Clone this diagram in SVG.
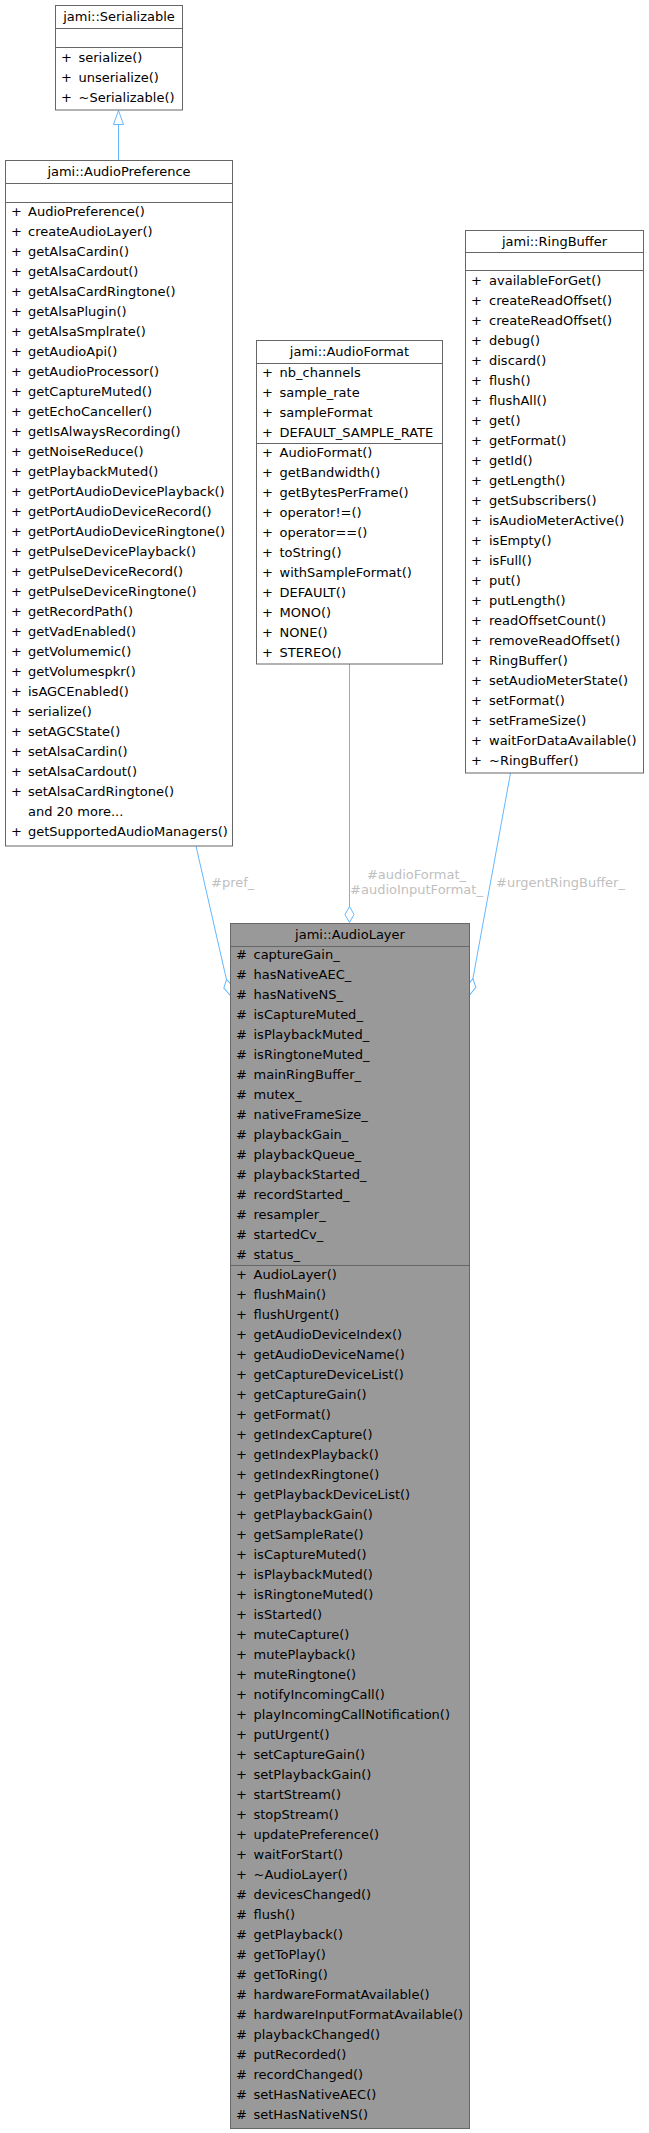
<svg xmlns="http://www.w3.org/2000/svg" width="649" height="2133" viewBox="0 0 649 2133">
<style>
.box{fill:#ffffff;stroke:#666666;stroke-width:1}
.focus{fill:#999999;stroke:#666666;stroke-width:1}
.sep{stroke:#666666;stroke-width:1}
text{font-family:"DejaVu Sans","Liberation Sans",sans-serif;font-size:13px;fill:#000000}
.t{text-anchor:middle}
.lbl{fill:#bfbfbf}
.lblm{fill:#bfbfbf;text-anchor:middle}
.edge{stroke:#63b8ff;stroke-width:1;fill:none}
</style>
<defs>
<marker id="tri" viewBox="-1 -1 16 13" markerWidth="16" markerHeight="13" refX="14" refY="5.5" orient="auto" markerUnits="userSpaceOnUse">
<path d="M0,0.5 L14,5.5 L0,10.5 Z" fill="#ffffff" stroke="#63b8ff" stroke-width="1"/>
</marker>
<marker id="dia" viewBox="-1 -1 18 12" markerWidth="18" markerHeight="12" refX="16" refY="5" orient="auto" markerUnits="userSpaceOnUse">
<path d="M0,5 L8,0.5 L16,5 L8,9.5 Z" fill="#ffffff" stroke="#63b8ff" stroke-width="1"/>
</marker>
</defs>

<g id="connectors">
<path class="edge" d="M118.5,160 L118.5,110.5" marker-end="url(#tri)"/>
<path class="edge" d="M196,846 L230,995" marker-end="url(#dia)"/>
<text class="lbl" x="211" y="886.5">#pref_</text>
<path class="edge" d="M349.5,664 L349.5,922.5" marker-end="url(#dia)"/>
<text class="lblm" x="416.5" y="879">#audioFormat_</text>
<text class="lblm" x="416.5" y="894">#audioInputFormat_</text>
<path class="edge" d="M510.5,773 L470,994.5" marker-end="url(#dia)"/>
<text class="lbl" x="496" y="886.5">#urgentRingBuffer_</text>
</g>

<g id="Serializable">
<rect class="box" x="55.5" y="5.5" width="127" height="104.5"/>
<line class="sep" x1="55.5" y1="28.5" x2="182.5" y2="28.5"/>
<line class="sep" x1="55.5" y1="47.5" x2="182.5" y2="47.5"/>
<text class="t" x="119" y="20.5">jami::Serializable</text>
<text y="62"><tspan x="61">+</tspan><tspan x="78.5">serialize()</tspan></text>
<text y="82"><tspan x="61">+</tspan><tspan x="78.5">unserialize()</tspan></text>
<text y="102"><tspan x="61">+</tspan><tspan x="78.5">~Serializable()</tspan></text>
</g>

<g id="AudioPreference">
<rect class="box" x="5.5" y="160.5" width="227" height="685.5"/>
<line class="sep" x1="5.5" y1="183.5" x2="232.5" y2="183.5"/>
<line class="sep" x1="5.5" y1="202.5" x2="232.5" y2="202.5"/>
<text class="t" x="119" y="175.5">jami::AudioPreference</text>
<text y="216"><tspan x="11">+</tspan><tspan x="28">AudioPreference()</tspan></text>
<text y="236"><tspan x="11">+</tspan><tspan x="28">createAudioLayer()</tspan></text>
<text y="256"><tspan x="11">+</tspan><tspan x="28">getAlsaCardin()</tspan></text>
<text y="276"><tspan x="11">+</tspan><tspan x="28">getAlsaCardout()</tspan></text>
<text y="296"><tspan x="11">+</tspan><tspan x="28">getAlsaCardRingtone()</tspan></text>
<text y="316"><tspan x="11">+</tspan><tspan x="28">getAlsaPlugin()</tspan></text>
<text y="336"><tspan x="11">+</tspan><tspan x="28">getAlsaSmplrate()</tspan></text>
<text y="356"><tspan x="11">+</tspan><tspan x="28">getAudioApi()</tspan></text>
<text y="376"><tspan x="11">+</tspan><tspan x="28">getAudioProcessor()</tspan></text>
<text y="396"><tspan x="11">+</tspan><tspan x="28">getCaptureMuted()</tspan></text>
<text y="416"><tspan x="11">+</tspan><tspan x="28">getEchoCanceller()</tspan></text>
<text y="436"><tspan x="11">+</tspan><tspan x="28">getIsAlwaysRecording()</tspan></text>
<text y="456"><tspan x="11">+</tspan><tspan x="28">getNoiseReduce()</tspan></text>
<text y="476"><tspan x="11">+</tspan><tspan x="28">getPlaybackMuted()</tspan></text>
<text y="496"><tspan x="11">+</tspan><tspan x="28">getPortAudioDevicePlayback()</tspan></text>
<text y="516"><tspan x="11">+</tspan><tspan x="28">getPortAudioDeviceRecord()</tspan></text>
<text y="536"><tspan x="11">+</tspan><tspan x="28">getPortAudioDeviceRingtone()</tspan></text>
<text y="556"><tspan x="11">+</tspan><tspan x="28">getPulseDevicePlayback()</tspan></text>
<text y="576"><tspan x="11">+</tspan><tspan x="28">getPulseDeviceRecord()</tspan></text>
<text y="596"><tspan x="11">+</tspan><tspan x="28">getPulseDeviceRingtone()</tspan></text>
<text y="616"><tspan x="11">+</tspan><tspan x="28">getRecordPath()</tspan></text>
<text y="636"><tspan x="11">+</tspan><tspan x="28">getVadEnabled()</tspan></text>
<text y="656"><tspan x="11">+</tspan><tspan x="28">getVolumemic()</tspan></text>
<text y="676"><tspan x="11">+</tspan><tspan x="28">getVolumespkr()</tspan></text>
<text y="696"><tspan x="11">+</tspan><tspan x="28">isAGCEnabled()</tspan></text>
<text y="716"><tspan x="11">+</tspan><tspan x="28">serialize()</tspan></text>
<text y="736"><tspan x="11">+</tspan><tspan x="28">setAGCState()</tspan></text>
<text y="756"><tspan x="11">+</tspan><tspan x="28">setAlsaCardin()</tspan></text>
<text y="776"><tspan x="11">+</tspan><tspan x="28">setAlsaCardout()</tspan></text>
<text y="796"><tspan x="11">+</tspan><tspan x="28">setAlsaCardRingtone()</tspan></text>
<text x="28" y="816">and 20 more...</text>
<text y="836"><tspan x="11">+</tspan><tspan x="28">getSupportedAudioManagers()</tspan></text>
</g>

<g id="AudioFormat">
<rect class="box" x="256.5" y="340.5" width="186" height="323.5"/>
<line class="sep" x1="256.5" y1="363.5" x2="442.5" y2="363.5"/>
<line class="sep" x1="256.5" y1="443.5" x2="442.5" y2="443.5"/>
<text class="t" x="349.5" y="355.5">jami::AudioFormat</text>
<text y="376.5"><tspan x="262">+</tspan><tspan x="279.5">nb_channels</tspan></text>
<text y="396.5"><tspan x="262">+</tspan><tspan x="279.5">sample_rate</tspan></text>
<text y="416.5"><tspan x="262">+</tspan><tspan x="279.5">sampleFormat</tspan></text>
<text y="436.5"><tspan x="262">+</tspan><tspan x="279.5">DEFAULT_SAMPLE_RATE</tspan></text>
<text y="456.5"><tspan x="262">+</tspan><tspan x="279.5">AudioFormat()</tspan></text>
<text y="476.5"><tspan x="262">+</tspan><tspan x="279.5">getBandwidth()</tspan></text>
<text y="496.5"><tspan x="262">+</tspan><tspan x="279.5">getBytesPerFrame()</tspan></text>
<text y="516.5"><tspan x="262">+</tspan><tspan x="279.5">operator!=()</tspan></text>
<text y="536.5"><tspan x="262">+</tspan><tspan x="279.5">operator==()</tspan></text>
<text y="556.5"><tspan x="262">+</tspan><tspan x="279.5">toString()</tspan></text>
<text y="576.5"><tspan x="262">+</tspan><tspan x="279.5">withSampleFormat()</tspan></text>
<text y="596.5"><tspan x="262">+</tspan><tspan x="279.5">DEFAULT()</tspan></text>
<text y="616.5"><tspan x="262">+</tspan><tspan x="279.5">MONO()</tspan></text>
<text y="636.5"><tspan x="262">+</tspan><tspan x="279.5">NONE()</tspan></text>
<text y="656.5"><tspan x="262">+</tspan><tspan x="279.5">STEREO()</tspan></text>
</g>

<g id="RingBuffer">
<rect class="box" x="465.5" y="230.5" width="178" height="542.5"/>
<line class="sep" x1="465.5" y1="252.5" x2="643.5" y2="252.5"/>
<line class="sep" x1="465.5" y1="270.5" x2="643.5" y2="270.5"/>
<text class="t" x="554.5" y="245.5">jami::RingBuffer</text>
<text y="284.5"><tspan x="471">+</tspan><tspan x="489">availableForGet()</tspan></text>
<text y="304.5"><tspan x="471">+</tspan><tspan x="489">createReadOffset()</tspan></text>
<text y="324.5"><tspan x="471">+</tspan><tspan x="489">createReadOffset()</tspan></text>
<text y="344.5"><tspan x="471">+</tspan><tspan x="489">debug()</tspan></text>
<text y="364.5"><tspan x="471">+</tspan><tspan x="489">discard()</tspan></text>
<text y="384.5"><tspan x="471">+</tspan><tspan x="489">flush()</tspan></text>
<text y="404.5"><tspan x="471">+</tspan><tspan x="489">flushAll()</tspan></text>
<text y="424.5"><tspan x="471">+</tspan><tspan x="489">get()</tspan></text>
<text y="444.5"><tspan x="471">+</tspan><tspan x="489">getFormat()</tspan></text>
<text y="464.5"><tspan x="471">+</tspan><tspan x="489">getId()</tspan></text>
<text y="484.5"><tspan x="471">+</tspan><tspan x="489">getLength()</tspan></text>
<text y="504.5"><tspan x="471">+</tspan><tspan x="489">getSubscribers()</tspan></text>
<text y="524.5"><tspan x="471">+</tspan><tspan x="489">isAudioMeterActive()</tspan></text>
<text y="544.5"><tspan x="471">+</tspan><tspan x="489">isEmpty()</tspan></text>
<text y="564.5"><tspan x="471">+</tspan><tspan x="489">isFull()</tspan></text>
<text y="584.5"><tspan x="471">+</tspan><tspan x="489">put()</tspan></text>
<text y="604.5"><tspan x="471">+</tspan><tspan x="489">putLength()</tspan></text>
<text y="624.5"><tspan x="471">+</tspan><tspan x="489">readOffsetCount()</tspan></text>
<text y="644.5"><tspan x="471">+</tspan><tspan x="489">removeReadOffset()</tspan></text>
<text y="664.5"><tspan x="471">+</tspan><tspan x="489">RingBuffer()</tspan></text>
<text y="684.5"><tspan x="471">+</tspan><tspan x="489">setAudioMeterState()</tspan></text>
<text y="704.5"><tspan x="471">+</tspan><tspan x="489">setFormat()</tspan></text>
<text y="724.5"><tspan x="471">+</tspan><tspan x="489">setFrameSize()</tspan></text>
<text y="744.5"><tspan x="471">+</tspan><tspan x="489">waitForDataAvailable()</tspan></text>
<text y="764.5"><tspan x="471">+</tspan><tspan x="489">~RingBuffer()</tspan></text>
</g>

<g id="AudioLayer">
<rect class="focus" x="230.5" y="923.5" width="239" height="1205"/>
<line class="sep" x1="230.5" y1="946.5" x2="469.5" y2="946.5"/>
<line class="sep" x1="230.5" y1="1265.5" x2="469.5" y2="1265.5"/>
<text class="t" x="350" y="938.5">jami::AudioLayer</text>
<text y="958.5"><tspan x="236">#</tspan><tspan x="253.5">captureGain_</tspan></text>
<text y="978.5"><tspan x="236">#</tspan><tspan x="253.5">hasNativeAEC_</tspan></text>
<text y="998.5"><tspan x="236">#</tspan><tspan x="253.5">hasNativeNS_</tspan></text>
<text y="1018.5"><tspan x="236">#</tspan><tspan x="253.5">isCaptureMuted_</tspan></text>
<text y="1038.5"><tspan x="236">#</tspan><tspan x="253.5">isPlaybackMuted_</tspan></text>
<text y="1058.5"><tspan x="236">#</tspan><tspan x="253.5">isRingtoneMuted_</tspan></text>
<text y="1078.5"><tspan x="236">#</tspan><tspan x="253.5">mainRingBuffer_</tspan></text>
<text y="1098.5"><tspan x="236">#</tspan><tspan x="253.5">mutex_</tspan></text>
<text y="1118.5"><tspan x="236">#</tspan><tspan x="253.5">nativeFrameSize_</tspan></text>
<text y="1138.5"><tspan x="236">#</tspan><tspan x="253.5">playbackGain_</tspan></text>
<text y="1158.5"><tspan x="236">#</tspan><tspan x="253.5">playbackQueue_</tspan></text>
<text y="1178.5"><tspan x="236">#</tspan><tspan x="253.5">playbackStarted_</tspan></text>
<text y="1198.5"><tspan x="236">#</tspan><tspan x="253.5">recordStarted_</tspan></text>
<text y="1218.5"><tspan x="236">#</tspan><tspan x="253.5">resampler_</tspan></text>
<text y="1238.5"><tspan x="236">#</tspan><tspan x="253.5">startedCv_</tspan></text>
<text y="1258.5"><tspan x="236">#</tspan><tspan x="253.5">status_</tspan></text>
<text y="1278.5"><tspan x="236">+</tspan><tspan x="253.5">AudioLayer()</tspan></text>
<text y="1298.5"><tspan x="236">+</tspan><tspan x="253.5">flushMain()</tspan></text>
<text y="1318.5"><tspan x="236">+</tspan><tspan x="253.5">flushUrgent()</tspan></text>
<text y="1338.5"><tspan x="236">+</tspan><tspan x="253.5">getAudioDeviceIndex()</tspan></text>
<text y="1358.5"><tspan x="236">+</tspan><tspan x="253.5">getAudioDeviceName()</tspan></text>
<text y="1378.5"><tspan x="236">+</tspan><tspan x="253.5">getCaptureDeviceList()</tspan></text>
<text y="1398.5"><tspan x="236">+</tspan><tspan x="253.5">getCaptureGain()</tspan></text>
<text y="1418.5"><tspan x="236">+</tspan><tspan x="253.5">getFormat()</tspan></text>
<text y="1438.5"><tspan x="236">+</tspan><tspan x="253.5">getIndexCapture()</tspan></text>
<text y="1458.5"><tspan x="236">+</tspan><tspan x="253.5">getIndexPlayback()</tspan></text>
<text y="1478.5"><tspan x="236">+</tspan><tspan x="253.5">getIndexRingtone()</tspan></text>
<text y="1498.5"><tspan x="236">+</tspan><tspan x="253.5">getPlaybackDeviceList()</tspan></text>
<text y="1518.5"><tspan x="236">+</tspan><tspan x="253.5">getPlaybackGain()</tspan></text>
<text y="1538.5"><tspan x="236">+</tspan><tspan x="253.5">getSampleRate()</tspan></text>
<text y="1558.5"><tspan x="236">+</tspan><tspan x="253.5">isCaptureMuted()</tspan></text>
<text y="1578.5"><tspan x="236">+</tspan><tspan x="253.5">isPlaybackMuted()</tspan></text>
<text y="1598.5"><tspan x="236">+</tspan><tspan x="253.5">isRingtoneMuted()</tspan></text>
<text y="1618.5"><tspan x="236">+</tspan><tspan x="253.5">isStarted()</tspan></text>
<text y="1638.5"><tspan x="236">+</tspan><tspan x="253.5">muteCapture()</tspan></text>
<text y="1658.5"><tspan x="236">+</tspan><tspan x="253.5">mutePlayback()</tspan></text>
<text y="1678.5"><tspan x="236">+</tspan><tspan x="253.5">muteRingtone()</tspan></text>
<text y="1698.5"><tspan x="236">+</tspan><tspan x="253.5">notifyIncomingCall()</tspan></text>
<text y="1718.5"><tspan x="236">+</tspan><tspan x="253.5">playIncomingCallNotification()</tspan></text>
<text y="1738.5"><tspan x="236">+</tspan><tspan x="253.5">putUrgent()</tspan></text>
<text y="1758.5"><tspan x="236">+</tspan><tspan x="253.5">setCaptureGain()</tspan></text>
<text y="1778.5"><tspan x="236">+</tspan><tspan x="253.5">setPlaybackGain()</tspan></text>
<text y="1798.5"><tspan x="236">+</tspan><tspan x="253.5">startStream()</tspan></text>
<text y="1818.5"><tspan x="236">+</tspan><tspan x="253.5">stopStream()</tspan></text>
<text y="1838.5"><tspan x="236">+</tspan><tspan x="253.5">updatePreference()</tspan></text>
<text y="1858.5"><tspan x="236">+</tspan><tspan x="253.5">waitForStart()</tspan></text>
<text y="1878.5"><tspan x="236">+</tspan><tspan x="253.5">~AudioLayer()</tspan></text>
<text y="1898.5"><tspan x="236">#</tspan><tspan x="253.5">devicesChanged()</tspan></text>
<text y="1918.5"><tspan x="236">#</tspan><tspan x="253.5">flush()</tspan></text>
<text y="1938.5"><tspan x="236">#</tspan><tspan x="253.5">getPlayback()</tspan></text>
<text y="1958.5"><tspan x="236">#</tspan><tspan x="253.5">getToPlay()</tspan></text>
<text y="1978.5"><tspan x="236">#</tspan><tspan x="253.5">getToRing()</tspan></text>
<text y="1998.5"><tspan x="236">#</tspan><tspan x="253.5">hardwareFormatAvailable()</tspan></text>
<text y="2018.5"><tspan x="236">#</tspan><tspan x="253.5">hardwareInputFormatAvailable()</tspan></text>
<text y="2038.5"><tspan x="236">#</tspan><tspan x="253.5">playbackChanged()</tspan></text>
<text y="2058.5"><tspan x="236">#</tspan><tspan x="253.5">putRecorded()</tspan></text>
<text y="2078.5"><tspan x="236">#</tspan><tspan x="253.5">recordChanged()</tspan></text>
<text y="2098.5"><tspan x="236">#</tspan><tspan x="253.5">setHasNativeAEC()</tspan></text>
<text y="2118.5"><tspan x="236">#</tspan><tspan x="253.5">setHasNativeNS()</tspan></text>
</g>
</svg>
